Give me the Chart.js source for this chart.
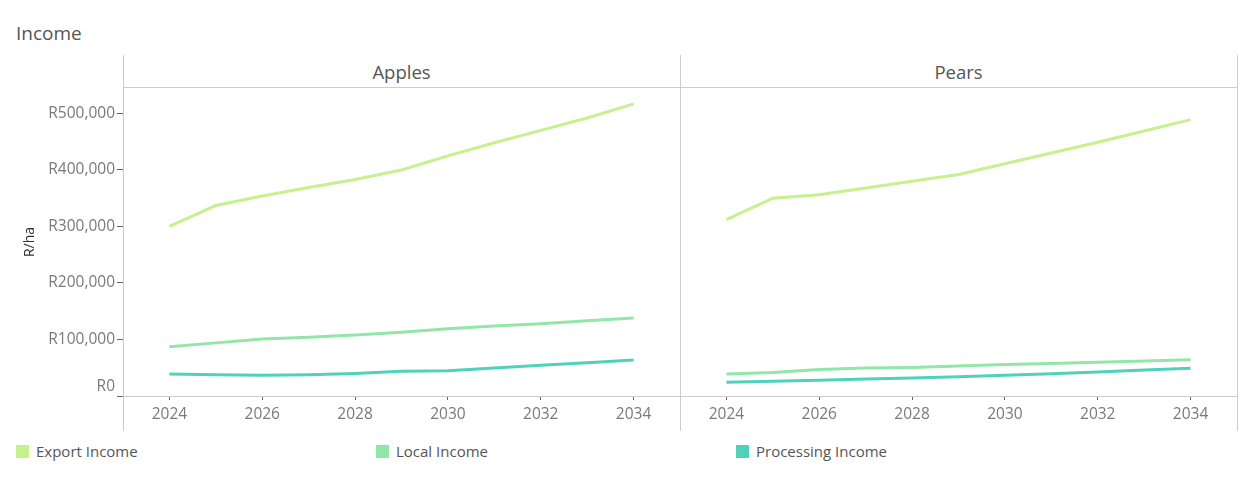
<!DOCTYPE html>
<html>
<head>
<meta charset="utf-8">
<title>Income</title>
<script src="https://cdn.jsdelivr.net/npm/chart.js@4.4.1/dist/chart.umd.min.js"></script>
<style>
    body { margin: 0; background: #fff; font-family: "Open Sans", sans-serif; }
    #page { position: relative; width: 1250px; height: 500px; overflow: hidden; }
    #title { position: absolute; left: 16px; top: 20px; font-size: 19px; line-height: 26px; color: #555; }
    .header { position: absolute; top: 55px; height: 32px; line-height: 34px; text-align: center; font-size: 18.5px; color: #555; }
    .vline { position: absolute; top: 55px; width: 1px; height: 376px; background: #ccc; }
    .hline { position: absolute; left: 123px; top: 87px; width: 1115px; height: 1px; background: #ccc; }
    .panel { position: absolute; top: 55px; height: 375px; }
    #legend { position: absolute; left: 16px; top: 441px; display: flex; }
    .item { width: 360px; display: flex; align-items: center; font-size: 15px; color: #555; }
    .swatch { width: 13px; height: 13px; margin-right: 7px; }
</style>
</head>
<body>
<div id="page">
    <div id="title">Income</div>
    <div class="header" style="left:123px;width:557px;">Apples</div>
    <div class="header" style="left:680px;width:557px;">Pears</div>
    <div class="panel" style="left:0;width:680px;"><canvas id="applesChart"></canvas></div>
    <div class="panel" style="left:680px;width:557px;"><canvas id="pearsChart"></canvas></div>
    <div class="hline"></div>
    <div class="vline" style="left:123px;"></div>
    <div class="vline" style="left:680px;"></div>
    <div class="vline" style="left:1237px;"></div>
    <div id="legend"></div>
</div>
<script>
// Data (R/ha)
const years = [2024, 2025, 2026, 2027, 2028, 2029, 2030, 2031, 2032, 2033, 2034];
const xTicks = [2024, 2026, 2028, 2030, 2032, 2034];
const yTicks = [0, 100000, 200000, 300000, 400000, 500000];

const seriesNames = ['Export Income', 'Local Income', 'Processing Income'];
const seriesColors = ['#c5f18e', '#92e6a8', '#4fd2b9'];

const applesExport = [300000, 337000, 354000, 369000, 383000, 400000, 425000, 448000, 470000, 492000, 517000];
const applesLocal = [87000, 94000, 101000, 104000, 108000, 113000, 119000, 124000, 128000, 133000, 138000];
const applesProcessing = [39000, 37700, 36500, 37700, 40000, 43600, 44700, 49500, 54200, 58900, 63600];

const pearsExport = [312000, 350000, 356000, 368000, 380000, 392000, 411000, 430000, 449000, 469000, 489000];
const pearsLocal = [38900, 41800, 47100, 49500, 50600, 53000, 55900, 57700, 59500, 61800, 64200];
const pearsProcessing = [24200, 26000, 27700, 30000, 31800, 34100, 36500, 39400, 42400, 45900, 48900];

const tickFont = { family: 'Open Sans', size: 15.5 };
const tickColor = '#7a7a7a';

// Build line datasets for one panel
function makeDatasets(lists) {
    return lists.map((vals, i) => ({
        label: seriesNames[i],
        data: years.map((yr, j) => ({ x: yr, y: vals[j] })),
        borderColor: seriesColors[i],
        backgroundColor: seriesColors[i],
        borderWidth: 3,
        pointRadius: 0,
        tension: 0,
        fill: false
    }));
}

function makeChart(id, lists, showY) {
    let ctx = document.getElementById(id).getContext('2d');
    return new Chart(ctx, {
        type: 'line',
        data: { datasets: makeDatasets(lists) },
        options: {
            responsive: true,
            maintainAspectRatio: false,
            animation: false,
            layout: { padding: { top: 33, left: 0, right: 0, bottom: 0 } },
            plugins: { legend: { display: false }, tooltip: { enabled: false } },
            scales: {
                x: {
                    type: 'linear',
                    min: 2023,
                    max: 2035,
                    afterBuildTicks: s => { s.ticks = xTicks.map(v => ({ value: v })); },
                    afterFit: s => { s.height = 34; },
                    ticks: { font: tickFont, color: tickColor, padding: 5, maxRotation: 0, callback: v => String(v) },
                    grid: { drawOnChartArea: false, drawTicks: true, tickLength: 4, tickColor: '#666' },
                    border: { display: true, color: '#ccc', width: 1 }
                },
                y: {
                    display: showY,
                    min: 0,
                    max: 545000,
                    afterBuildTicks: s => { s.ticks = yTicks.map(v => ({ value: v })); },
                    afterFit: s => { s.width = showY ? 123 : 0; },
                    ticks: {
                        font: tickFont,
                        color: tickColor,
                        padding: 2,
                        // Tableau lifts the zero label above the axis
                        callback: v => v === 0 ? ['R0', ''] : 'R' + v.toLocaleString('en-US')
                    },
                    grid: { drawOnChartArea: false, drawTicks: true, tickLength: 6, tickColor: '#666' },
                    border: { display: false },
                    title: {
                        display: true,
                        text: 'R/ha',
                        color: '#333',
                        font: { family: 'Open Sans', size: 14 },
                        padding: { top: 22, bottom: 0 }
                    }
                }
            }
        }
    });
}

makeChart('applesChart', [applesExport, applesLocal, applesProcessing], true);
makeChart('pearsChart', [pearsExport, pearsLocal, pearsProcessing], false);

// Legend
let legend = document.getElementById('legend');
seriesNames.forEach((name, i) => {
    let item = document.createElement('div');
    item.className = 'item';
    item.innerHTML = '<span class="swatch" style="background:' + seriesColors[i] + '"></span>' + name;
    legend.appendChild(item);
});
</script>
</body>
</html>
